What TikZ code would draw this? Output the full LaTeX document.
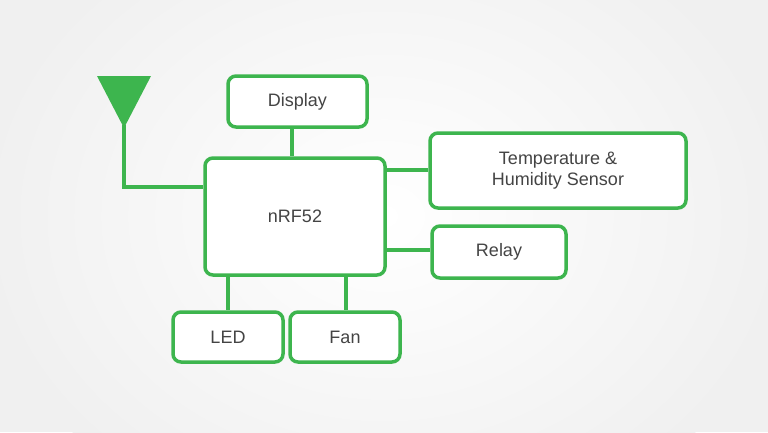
\documentclass[tikz,border=0pt]{standalone}
\usepackage{fontspec}
\setmainfont{Liberation Sans}
\begin{document}
\definecolor{gr}{HTML}{3DB54E}
\definecolor{tx}{HTML}{444444}
\begin{tikzpicture}[x=1pt,y=-1pt,
  box/.style={draw=gr,line width=3.5pt,rounded corners=8pt,fill=white,text=tx,font=\fontsize{18}{21}\selectfont,align=center},
  ln/.style={draw=gr,line width=3.5pt}]
\fill[gray!12] (0,0) rectangle (768,432);
\begin{scope}
\clip (0,0) rectangle (768,432);
\shade[inner color=white,outer color=gray!12,xscale=1.25] (307.2,216) circle (330);
\end{scope}
\useasboundingbox (0,0) rectangle (768,432);
\node[box,minimum width=139pt,minimum height=51pt] (disp) at (297.5,101.5) {Display};
\node[box,minimum width=180pt,minimum height=117pt] (nrf) at (295,216.5) {nRF52};
\node[box,minimum width=256pt,minimum height=75pt] (temp) at (558,170.5) {Temperature \&\\Humidity Sensor};
\node[box,minimum width=134pt,minimum height=52pt] (relay) at (499,252) {Relay};
\node[box,minimum width=110pt,minimum height=50pt] (led) at (228,337) {LED};
\node[box,minimum width=110pt,minimum height=50pt] (fan) at (345,337) {Fan};
\fill[gr] (97,76) -- (151,76) -- (124,128) -- cycle;
\coordinate (ant) at (124,125);
\draw[ln] (ant) |- (nrf.west |- 0,187);
\draw[ln] (disp.south -| 292,0) -- (nrf.north -| 292,0);
\draw[ln] (nrf.east |- 0,170) -- (temp.west |- 0,170);
\draw[ln] (nrf.east |- 0,250) -- (relay.west |- 0,250);
\draw[ln] (nrf.south -| 228,0) -- (led.north);
\draw[ln] (nrf.south -| 346,0) -- (fan.north -| 346,0);
\end{tikzpicture}
\end{document}
